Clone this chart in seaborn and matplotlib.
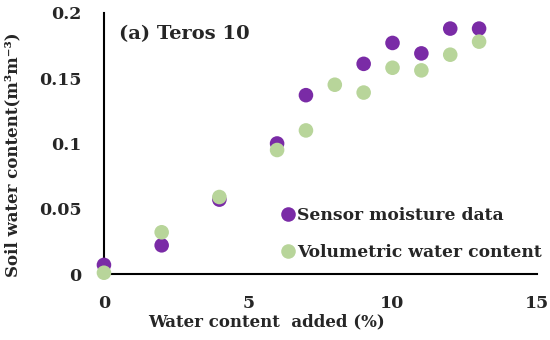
import matplotlib
matplotlib.use("Agg")
import matplotlib.pyplot as plt
import pandas as pd
import seaborn as sns

# water content added (%) and readings for each series
sensor_x = [0, 2, 4, 6, 7, 9, 10, 11, 12, 13]
sensor_y = [0.007, 0.022, 0.057, 0.100, 0.137, 0.161, 0.177, 0.169, 0.188, 0.188]
vwc_x = [0, 2, 4, 6, 7, 8, 9, 10, 11, 12, 13]
vwc_y = [0.001, 0.032, 0.059, 0.095, 0.110, 0.145, 0.139, 0.158, 0.156, 0.168, 0.178]
series_names = ["Sensor moisture data", "Volumetric water content"]
x_ticks = [0, 5, 10, 15]
y_ticks = [0, 0.05, 0.1, 0.15, 0.2]
y_tick_labels = ["0", "0.05", "0.1", "0.15", "0.2"]

df = pd.concat([
    pd.DataFrame({"x": sensor_x, "y": sensor_y, "series": series_names[0]}),
    pd.DataFrame({"x": vwc_x, "y": vwc_y, "series": series_names[1]}),
])

sns.set_style("white")
plt.rcParams["font.family"] = ["DejaVu Serif"]
plt.rcParams["font.weight"] = "bold"

fig = plt.figure(figsize=(5.5, 3.4), dpi=100)
ax = fig.add_axes([0.189, 0.194, 0.787, 0.768])

sns.scatterplot(data=df, x="x", y="y", hue="series", hue_order=series_names,
                palette=["#7a2ba6", "#b8d59a"], s=110, linewidth=0, ax=ax,
                clip_on=False, zorder=3)

ax.set_xlim(0, 15)
ax.set_ylim(0, 0.2)
ax.set_xticks(x_ticks)
ax.set_yticks(y_ticks)
ax.set_yticklabels(y_tick_labels)
ax.tick_params(axis="both", length=0, labelsize=12.5)
ax.tick_params(axis="x", pad=15)
ax.tick_params(axis="y", pad=16)
for side in ["top", "right"]:
    ax.spines[side].set_visible(False)
for side in ["left", "bottom"]:
    ax.spines[side].set_color("black")
    ax.spines[side].set_linewidth(1.5)

ax.set_xlabel("Water content  added (%)", fontsize=12, fontweight="bold")
ax.xaxis.set_label_coords(0.376, -0.15)
ax.set_ylabel("Soil water content(m³m⁻³)", fontsize=12, fontweight="bold")
ax.yaxis.set_label_coords(-0.19, 0.456)

ax.text(0.035, 0.955, "(a) Teros 10", transform=ax.transAxes, fontsize=14,
        fontweight="bold", va="top", ha="left")

leg = ax.legend(loc="lower left", bbox_to_anchor=(0.41, 0.05), frameon=False,
                fontsize=12.3, handlelength=0.8, handletextpad=0.1,
                labelspacing=1.15, borderaxespad=0, borderpad=0)

fig.savefig("out.png", dpi=100)
